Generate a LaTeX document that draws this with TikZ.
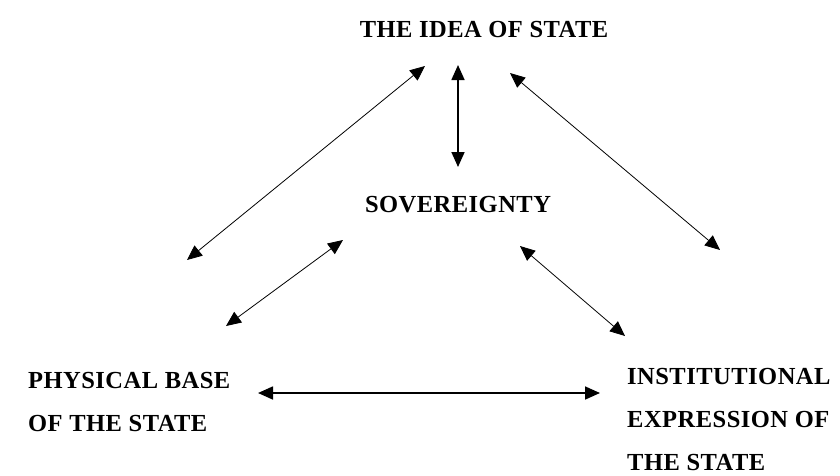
\documentclass[tikz,border=0pt]{standalone}
\usepackage{fontspec}
\setmainfont{Liberation Serif}[LetterSpace=2]
\usetikzlibrary{arrows.meta}
\begin{document}
\begin{tikzpicture}[x=1pt,y=-1pt,
  lbl/.style={inner sep=0pt, font={\bfseries\fontsize{24.5}{43}\selectfont}, text=black},
  dblthin/.style={{Triangle[length=15pt,width=13pt]}-{Triangle[length=15pt,width=13pt]}, line width=0.8pt},
  dblthick/.style={{Triangle[length=15pt,width=13pt]}-{Triangle[length=15pt,width=13pt]}, line width=1.7pt}]
\useasboundingbox[fill=white] (0,0) rectangle (840,475);

\node[lbl, anchor=base] (idea) at (484,37) {THE IDEA OF STATE};
\node[lbl, anchor=base] (sov) at (458,212) {SOVEREIGNTY};
\node[lbl, anchor=north west, align=left] (phys) at (28,372) {PHYSICAL BASE\\OF THE STATE};
\node[lbl, anchor=north west, align=left] (inst) at (627,368) {INSTITUTIONAL\\EXPRESSION OF\\THE STATE};

\coordinate (vT) at (458,65);
\coordinate (vB) at (458,167);
\coordinate (llT) at (425,66);
\coordinate (llB) at (187,260);
\coordinate (rlT) at (510,73);
\coordinate (rlB) at (720,250);
\coordinate (lsT) at (343,240);
\coordinate (lsB) at (226,326);
\coordinate (rsT) at (520,246);
\coordinate (rsB) at (625,336);
\coordinate (hL) at (258,393);
\coordinate (hR) at (600,393);

\draw[dblthick] (vT) -- (vB);
\draw[dblthin] (llT) -- (llB);
\draw[dblthin] (rlT) -- (rlB);
\draw[dblthin] (lsT) -- (lsB);
\draw[dblthin] (rsT) -- (rsB);
\draw[dblthick] (hL) -- (hR);
\end{tikzpicture}
\end{document}
